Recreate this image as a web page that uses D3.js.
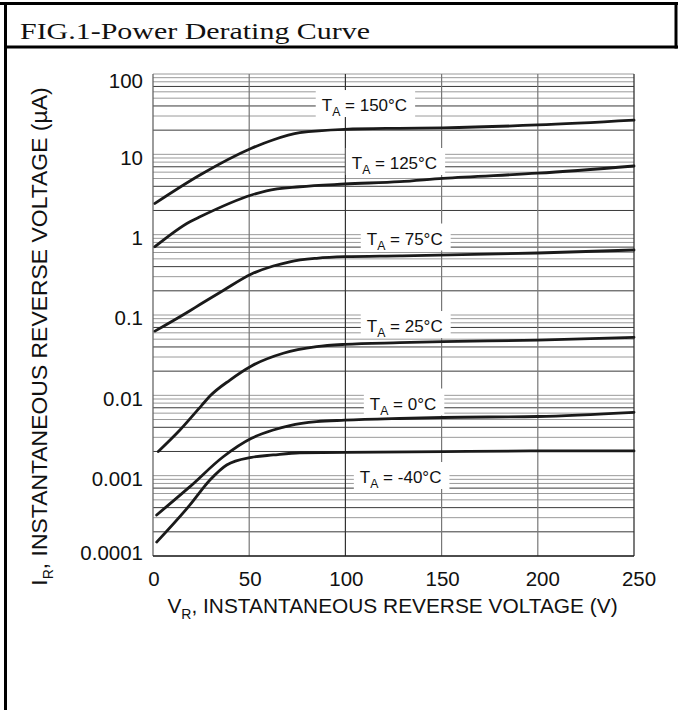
<!DOCTYPE html>
<html><head><meta charset="utf-8">
<script src="https://cdn.jsdelivr.net/npm/d3@7"></script>
<style>html,body{margin:0;padding:0;background:#fff;}svg{display:block;}</style>
</head><body>
<svg id="chart" width="678" height="710"></svg>
<script>
// ---- data ----
const xTicks = [0, 50, 100, 150, 200, 250];
const yDecades = [100, 10, 1, 0.1, 0.01, 0.001, 0.0001];
const yTickLabels = ["100", "10", "1", "0.1", "0.01", "0.001", "0.0001"];

const voltage150 = [1, 24.4, 51.2, 62.3, 76.3, 99.7, 128, 150.6, 200, 250];
const current150 = [2.45, 5.53, 11.9, 15.1, 18.6, 20.5, 21.1, 21.4, 23.2, 26.7];

const voltage125 = [1, 19.2, 24.4, 51.2, 59, 76.3, 99.7, 128.2, 150.7, 200, 250];
const current125 = [0.708, 1.45, 1.67, 3.12, 3.52, 3.95, 4.27, 4.57, 5.03, 5.82, 7.16];

const voltage75 = [1, 19.2, 24.4, 36.5, 51.2, 62.5, 71.1, 85, 99.7, 128.2, 200, 250];
const current75 = [0.063, 0.113, 0.135, 0.202, 0.324, 0.407, 0.46, 0.508, 0.532, 0.545, 0.591, 0.644];

const voltage25 = [2.75, 14, 25.3, 29.6, 40, 51.2, 67.7, 85, 99.7, 128.2, 150.7, 200, 250];
const current25 = [0.002, 0.0037, 0.0075, 0.0098, 0.0155, 0.0232, 0.0334, 0.0403, 0.0431, 0.0452, 0.0465, 0.0488, 0.0528];

const voltage0 = [1.9, 19.2, 36.5, 51.2, 62.5, 71.1, 85, 99.7, 128.2, 150.7, 200, 250];
const current0 = [0.000324, 0.00073, 0.00172, 0.00292, 0.0037, 0.0042, 0.0047, 0.0049, 0.00515, 0.0053, 0.00545, 0.00615];

const voltageM40 = [1.9, 19.2, 29.6, 38.3, 51.2, 62.5, 76.3, 99.7, 150.7, 200, 250];
const currentM40 = [0.000149, 0.000432, 0.000883, 0.00136, 0.00169, 0.00181, 0.00193, 0.00195, 0.00199, 0.00203, 0.00203];

const seriesTemps = ["150", "125", "75", "25", "0", "-40"];
const labelVoltage = [87.7, 103.3, 111.1, 111.1, 112.7, 107.5];
const labelCurrent = [34.6, 6.57, 0.754, 0.0614, 0.00666, 0.00081];

const titleText = "FIG.1-Power Derating Curve";
const xTitleMain = "V", xTitleSub = "R", xTitleRest = ", INSTANTANEOUS REVERSE VOLTAGE (V)";
const yTitleMain = "I", yTitleSub = "R", yTitleRest = ", INSTANTANEOUS REVERSE VOLTAGE (\u00B5A)";

// ---- drawing ----
const svg = d3.select("#chart");
const W = 678, H = 710;
const plot = {left: 153, right: 634, top: 74, bottom: 556};

const x = d3.scaleLinear().domain([0, 250]).range([plot.left, plot.right]);
const y = d3.scaleLog().domain([0.0001, 100]).range([plot.bottom, plot.top]);

function fitWidth(sel, target) {
  const cur = sel.node().getComputedTextLength();
  const fs = parseFloat(sel.attr("font-size"));
  sel.attr("font-size", fs * target / cur);
}

// frame
const frame = svg.append("g").attr("stroke", "#000").attr("stroke-width", 3);
frame.append("line").attr("x1", 0).attr("x2", W).attr("y1", 3.5).attr("y2", 3.5);
frame.append("line").attr("x1", 5.5).attr("x2", W).attr("y1", 47).attr("y2", 47);
frame.append("line").attr("x1", 5.5).attr("x2", 5.5).attr("y1", 2).attr("y2", H);
frame.append("line").attr("x1", 676).attr("x2", 676).attr("y1", 2).attr("y2", 48.5);

// title
svg.append("text").attr("x", 20).attr("y", 39)
  .attr("font-family", "'Liberation Serif','Times New Roman',serif")
  .attr("font-size", 24).attr("fill", "#111")
  .attr("textLength", 350).attr("lengthAdjust", "spacingAndGlyphs")
  .text(titleText);

// grid
const grid = svg.append("g");
const minorTicks = y.ticks();
grid.selectAll("line.h").data(minorTicks).join("line")
  .attr("x1", plot.left).attr("x2", plot.right)
  .attr("y1", d => y(d)).attr("y2", d => y(d))
  .attr("stroke", d => {
    const m = Math.round(d / Math.pow(10, Math.floor(Math.log10(d) + 1e-9)));
    return (m === 2 || m === 4 || m === 7) ? "#3a3a3a" : "#9a9a9a";
  })
  .attr("stroke-width", 1);
grid.selectAll("line.v").data(xTicks.filter(v => v > 0 && v < 250)).join("line")
  .attr("x1", d => x(d)).attr("x2", d => x(d))
  .attr("y1", plot.top).attr("y2", plot.bottom)
  .attr("stroke", d => d === 100 ? "#333" : "#777").attr("stroke-width", 1.2);

// axis lines
svg.append("line").attr("x1", x(0)).attr("x2", x(0)).attr("y1", plot.top).attr("y2", plot.bottom)
  .attr("stroke", "#666").attr("stroke-width", 1.3);
svg.append("line").attr("x1", x(250)).attr("x2", x(250)).attr("y1", plot.top).attr("y2", plot.bottom)
  .attr("stroke", "#333").attr("stroke-width", 1.3);
svg.append("line").attr("x1", x(0)).attr("x2", x(250)).attr("y1", plot.bottom).attr("y2", plot.bottom)
  .attr("stroke", "#222").attr("stroke-width", 1.5);

// labels with white background
const labelFont = 17;
const labels = svg.append("g");
seriesTemps.forEach((t, i) => {
  const g = labels.append("g");
  const lx = x(labelVoltage[i]), ly = y(labelCurrent[i]);
  const txt = g.append("text").attr("x", lx).attr("y", ly)
    .attr("font-family", "'Liberation Sans',Arial,sans-serif")
    .attr("font-size", labelFont).attr("fill", "#111");
  txt.append("tspan").text("T");
  txt.append("tspan").attr("font-size", labelFont * 0.72).attr("dy", 5).text("A");
  txt.append("tspan").attr("dy", -5).text(" = " + t + "\u00B0C");
  const bb = txt.node().getBBox();
  g.insert("rect", "text").attr("x", bb.x - 6).attr("y", ly - 21)
    .attr("width", bb.width + 14).attr("height", 27).attr("fill", "#fff");
});

// curves
const line = d3.line().x(d => x(d[0])).y(d => y(d[1])).curve(d3.curveMonotoneX);
const series = [
  [voltage150, current150], [voltage125, current125], [voltage75, current75],
  [voltage25, current25], [voltage0, current0], [voltageM40, currentM40]
];
svg.append("g").selectAll("path").data(series).join("path")
  .attr("d", s => line(s[0].map((v, i) => [v, s[1][i]])))
  .attr("fill", "none").attr("stroke", "#1a1a1a").attr("stroke-width", 2.8)
  .attr("stroke-linecap", "round");

// y tick labels
svg.append("g").selectAll("text").data(yDecades).join("text")
  .attr("x", 143)
  .attr("y", d => Math.min(Math.max(y(d) + 3, 81), 552.5))
  .attr("dy", "0.36em")
  .attr("text-anchor", "end")
  .attr("font-family", "'Liberation Sans',Arial,sans-serif")
  .attr("font-size", 20.5).attr("fill", "#111")
  .text((d, i) => yTickLabels[i]);

// x tick labels
svg.append("g").selectAll("text").data(xTicks).join("text")
  .attr("x", d => x(d) + (d >= 200 ? 5 : 1))
  .attr("y", 586)
  .attr("text-anchor", "middle")
  .attr("font-family", "'Liberation Sans',Arial,sans-serif")
  .attr("font-size", 20.5).attr("fill", "#111")
  .text(d => d);

// x title
const xt = svg.append("text").attr("x", 392.5).attr("y", 613)
  .attr("text-anchor", "middle")
  .attr("font-family", "'Liberation Sans',Arial,sans-serif")
  .attr("font-size", 20).attr("fill", "#111");
xt.append("tspan").text(xTitleMain);
xt.append("tspan").attr("font-size", 14).attr("dy", 6).text(xTitleSub);
xt.append("tspan").attr("dy", -6).text(xTitleRest);
fitWidth(xt, 451);

// y title
const yt = svg.append("text").attr("transform", "translate(47,336.5) rotate(-90)")
  .attr("text-anchor", "middle")
  .attr("font-family", "'Liberation Sans',Arial,sans-serif")
  .attr("font-size", 20).attr("fill", "#111");
yt.append("tspan").text(yTitleMain);
yt.append("tspan").attr("font-size", 14).attr("dy", 6).text(yTitleSub);
yt.append("tspan").attr("dy", -6).text(yTitleRest);
fitWidth(yt, 500);
</script>
</body></html>
